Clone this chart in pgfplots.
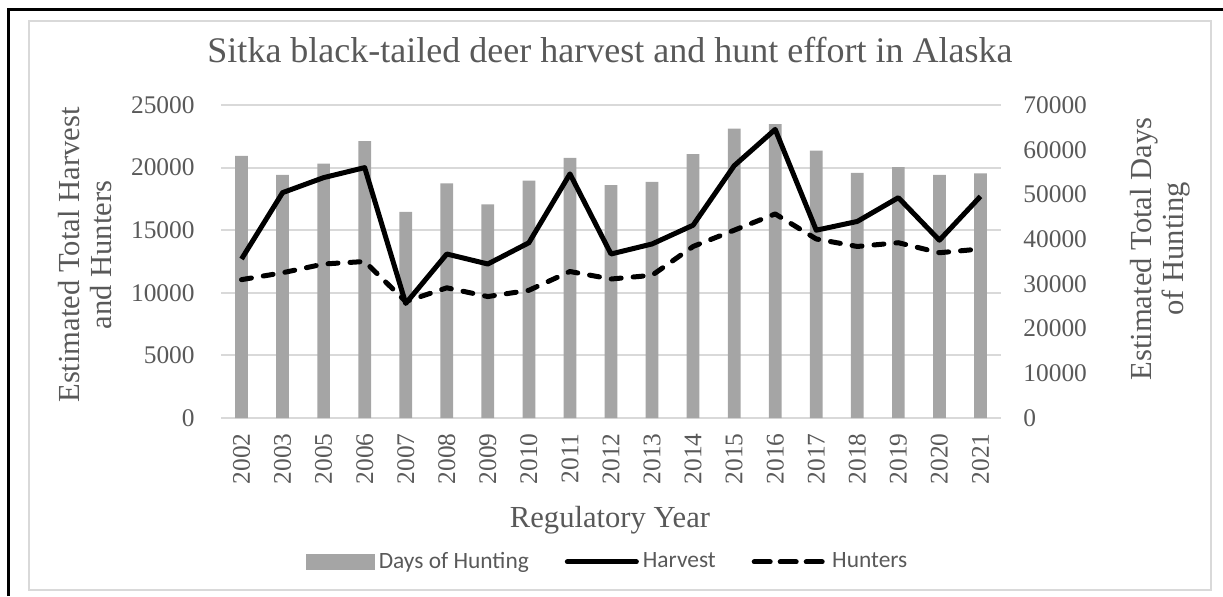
\documentclass[border=0pt]{standalone}
\usepackage{pgfplots}
\pgfplotsset{compat=1.18}
\usepackage{pgfplotstable}
\usepackage{fontspec}
\setmainfont{Liberation Serif}
\newfontfamily\carlito{Carlito}
\definecolor{txtgray}{HTML}{595959}
\definecolor{gridgray}{HTML}{D9D9D9}
\definecolor{bargray}{HTML}{A5A5A5}
\pgfplotsset{/pgf/number format/assume math mode=true}
\pgfplotstableread{
idx year days harvest hunters
0 2002 58600 12700 11050
1 2003 54400 18000 11600
2 2005 56900 19200 12300
3 2006 61900 20000 12500
4 2007 46100 9150 9300
5 2008 52500 13100 10400
6 2009 47800 12300 9700
7 2010 53100 14000 10200
8 2011 58200 19500 11700
9 2012 52100 13100 11100
10 2013 52800 13900 11400
11 2014 59000 15400 13700
12 2015 64700 20150 15000
13 2016 65700 23050 16300
14 2017 59800 15000 14300
15 2018 54800 15700 13700
16 2019 56100 17600 14000
17 2020 54400 14200 13200
18 2021 54700 17700 13500
}\datatable
\begin{document}
\begin{tikzpicture}
\useasboundingbox (0,0) rectangle (611.5pt,298pt);
\draw[black, line width=1.5pt] (4pt,0pt) -- (4pt,293pt) -- (611.5pt,293pt);
\draw[gridgray, line width=1pt] (14.5pt,3pt) rectangle (605.5pt,287.5pt);
% bars axis (right)
\begin{axis}[
  at={(110.5pt,89pt)}, anchor=south west,
  scale only axis, width=390pt, height=156.5pt,
  xmin=-0.5, xmax=18.5, ymin=0, ymax=70000,
  axis y line*=right, axis x line*=bottom,
  x axis line style={draw=gridgray, line width=1pt, -},
  y axis line style={draw=none},
  major tick length=0pt,
  xtick={0,...,18},
  xticklabels={2002,2003,2005,2006,2007,2008,2009,2010,2011,2012,2013,2014,2015,2016,2017,2018,2019,2020,2021},
  x tick label style={rotate=90, anchor=east, inner sep=0pt, yshift=0pt, xshift=0pt, font=\fontsize{12.7}{14}\selectfont, text=txtgray},
  xticklabel shift=7.5pt,
  ytick={0,10000,...,70000},
  scaled y ticks=false,
  /pgf/number format/1000 sep={},
  y tick label style={anchor=west, inner sep=0pt, font=\fontsize{12.7}{14}\selectfont, text=txtgray},
  yticklabel shift=11pt,
  extra y ticks={14000,28000,42000,56000,70000},
  extra y tick labels={},
  extra y tick style={grid=major, major grid style={draw=gridgray, line width=1pt}},
  clip=false,
]
\addplot[ybar, bar width=0.31, fill=bargray, draw=none] table[x=idx, y=days] {\datatable};
\end{axis}
% lines axis (left)
\begin{axis}[
  at={(110.5pt,89pt)}, anchor=south west,
  scale only axis, width=390pt, height=156.5pt,
  xmin=-0.5, xmax=18.5, ymin=0, ymax=25000,
  axis y line*=left, hide x axis,
  y axis line style={draw=none},
  major tick length=0pt,
  ytick={0,5000,...,25000},
  scaled y ticks=false,
  /pgf/number format/1000 sep={},
  y tick label style={anchor=east, inner sep=0pt, font=\fontsize{12.7}{14}\selectfont, text=txtgray},
  yticklabel shift=13pt,
  clip=false,
  legend columns=3,
  legend style={at={(0.497,-0.46)}, anchor=center, draw=none, fill=none,
    font=\carlito\fontsize{11.7}{13}\selectfont, text=txtgray,
    inner sep=0pt, nodes={inner sep=2pt},
    /tikz/every even column/.append style={column sep=16pt}},
  legend cell align=left,
]
\addlegendimage{legend image code/.code={\fill[bargray] (0pt,-3.75pt) rectangle (34pt,3.75pt);}}
\addlegendentry{Days of Hunting}
\addplot[black, line width=2.5pt, line join=round,
  legend image code/.code={\draw[black, line width=2.5pt, line cap=round] (1.25pt,0pt) -- (35.75pt,0pt);}]
  table[x=idx, y=harvest] {\datatable};
\addlegendentry{Harvest}
\addplot[black, line width=2.5pt, line join=round, line cap=round, dash pattern=on 5pt off 6pt,
  legend image code/.code={\draw[black, line width=2.5pt, line cap=round, dash pattern=on 8pt off 5pt] (1.25pt,0pt) -- (37pt,0pt);}]
  table[x=idx, y=hunters] {\datatable};
\addlegendentry{Hunters}
\end{axis}
\node[text=txtgray, font=\fontsize{18}{20}\selectfont] at (305pt,273pt) {Sitka black-tailed deer harvest and hunt effort in Alaska};
\node[text=txtgray, font=\fontsize{15.3}{17}\selectfont] at (305pt,38pt) {Regulatory Year};
\node[text=txtgray, font=\fontsize{15.3}{16}\selectfont, rotate=90, align=center] at (42.5pt,170.5pt) {Estimated Total Harvest\\and Hunters};
\node[text=txtgray, font=\fontsize{15.3}{16}\selectfont, rotate=90, align=center] at (580pt,173.5pt) {Estimated Total Days\\of Hunting};
\end{tikzpicture}
\end{document}
